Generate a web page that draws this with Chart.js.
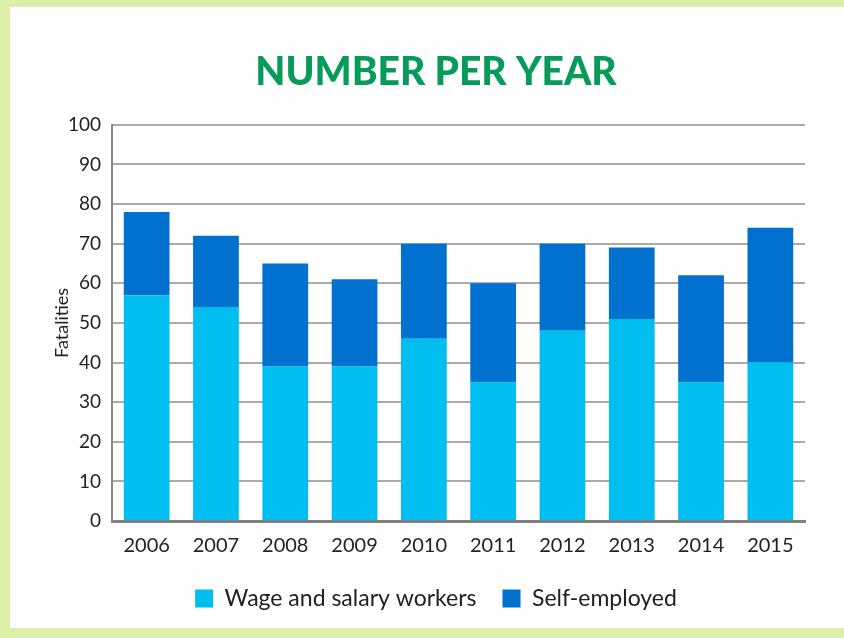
<!DOCTYPE html>
<html>
<head>
<meta charset="utf-8">
<script src="https://cdn.jsdelivr.net/npm/chart.js@4.4.1/dist/chart.umd.min.js"></script>
<style>
  html, body { margin: 0; padding: 0; }
  body { width: 844px; height: 638px; background: #dcefa8; position: relative; overflow: hidden; }
  #panel { position: absolute; left: 10px; top: 7px; width: 834px; height: 621px; background: #ffffff; }
  canvas { display: block; }
</style>
</head>
<body>
<div id="panel"><canvas id="c" width="834" height="621"></canvas></div>
<script>
const years = ['2006','2007','2008','2009','2010','2011','2012','2013','2014','2015'];
const wageSalary = [57, 54, 39, 39, 46, 35, 48, 51, 35, 40];
const selfEmployed = [21, 18, 26, 22, 24, 25, 22, 18, 27, 34];
const yTicks = [0, 10, 20, 30, 40, 50, 60, 70, 80, 90, 100];

const FONT = 'Lato, "Open Sans", "DejaVu Sans", sans-serif';

const centerShift = {
  id: 'centerShift',
  afterLayout(chart) {
    const tb = chart.titleBlock;
    if (tb) { const w = tb.right - tb.left; tb.left = 426 - w / 2; tb.right = 426 + w / 2; }
    const lg = chart.legend;
    if (lg) { const w = lg.right - lg.left; lg.left = 426 - w / 2; lg.right = 426 + w / 2; }
  }
};

new Chart(document.getElementById('c'), {
  type: 'bar',
  data: {
    labels: years,
    datasets: [
      { label: 'Wage and salary workers', data: wageSalary, backgroundColor: '#00bef0', borderWidth: 0 },
      { label: 'Self-employed', data: selfEmployed, backgroundColor: '#0071cf', borderWidth: 0 }
    ]
  },
  options: {
    responsive: false,
    animation: false,
    layout: { padding: { left: 0, right: 39, top: 0, bottom: 8 } },
    datasets: { bar: { barPercentage: 0.66, categoryPercentage: 1.0 } },
    plugins: {
      title: {
        display: true,
        text: 'NUMBER PER YEAR',
        color: '#079b5a',
        font: { family: FONT, size: 39, weight: '900' },
        padding: { top: 42, bottom: 29 }
      },
      legend: {
        position: 'bottom',
        labels: {
          color: '#222222',
          font: { family: FONT, size: 23 },
          boxWidth: 18, boxHeight: 18,
          padding: 26
        }
      },
      tooltip: { enabled: false }
    },
    scales: {
      x: {
        stacked: true,
        grid: { display: false, drawTicks: false },
        border: { display: true, color: '#808080', width: 3 },
        ticks: { color: '#222222', font: { family: FONT, size: 20 }, padding: 13 },
        afterFit(s) { s.height = 40; }
      },
      y: {
        stacked: true,
        min: 0, max: 100,
        afterBuildTicks(s) { s.ticks = yTicks.map(v => ({ value: v })); },
        grid: { color: '#aaaaaa', lineWidth: 2, drawTicks: false },
        border: { display: true, color: '#888888', width: 2 },
        ticks: { color: '#222222', font: { family: FONT, size: 19 }, padding: 11 },
        title: { display: true, text: 'Fatalities', color: '#222222', font: { family: FONT, size: 18 }, padding: { top: 41, bottom: 0 } },
        afterFit(s) { s.width = 102; }
      }
    }
  },
  plugins: [centerShift]
});
</script>
</body>
</html>
